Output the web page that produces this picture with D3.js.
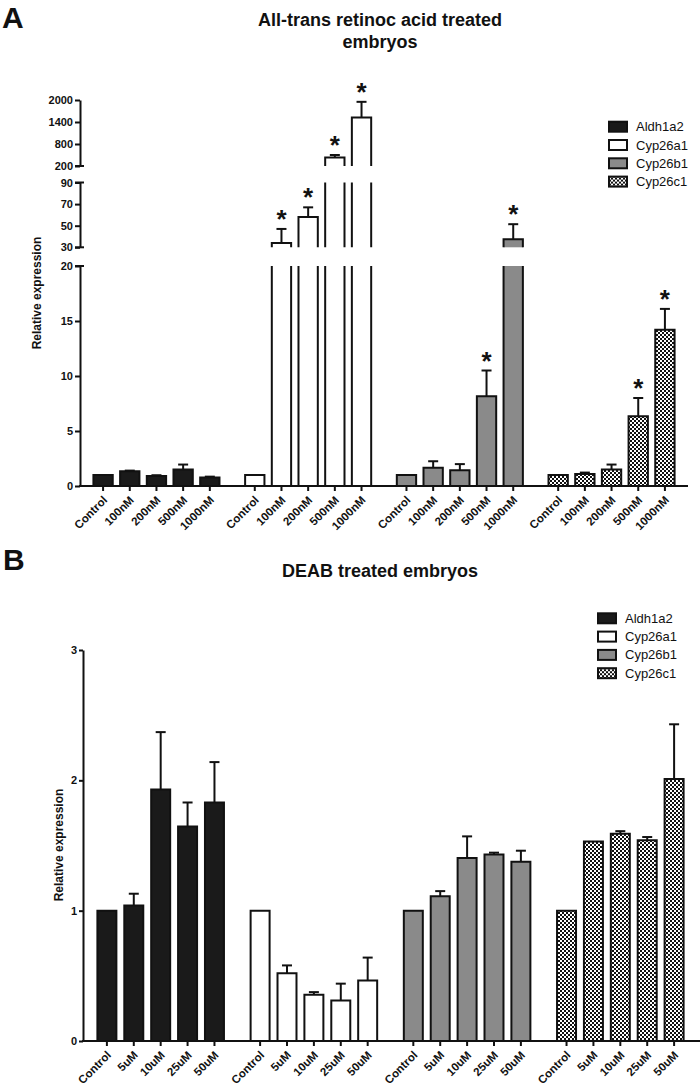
<!DOCTYPE html>
<html><head><meta charset="utf-8">
<script src="https://cdn.jsdelivr.net/npm/d3@7"></script>
<style>
body{margin:0;background:#fff}
svg{display:block}
text{font-family:"Liberation Sans",Arial,Helvetica,sans-serif;fill:#111}
</style>
</head><body>
<svg id="chart" width="700" height="1088"></svg>
<script>
// ---------- DATA ----------
const genes = ["Aldh1a2", "Cyp26a1", "Cyp26b1", "Cyp26c1"];
const concA = ["Control", "100nM", "200nM", "500nM", "1000nM"];
const concB = ["Control", "5uM", "10uM", "25uM", "50uM"];

// Panel A (all-trans retinoic acid) means and upper error (SEM)
const aldhA   = [1.0, 1.33, 0.92, 1.5, 0.77];
const aldhAErr= [0, 0.07, 0.06, 0.45, 0.08];
const a1A     = [1.0, 34, 58, 430, 1520];
const a1AErr  = [0, 13, 9, 70, 430];
const b1A     = [1.0, 1.65, 1.44, 8.15, 37.4];
const b1AErr  = [0, 0.6, 0.55, 2.35, 14];
const c1A     = [1.0, 1.1, 1.5, 6.35, 14.2];
const c1AErr  = [0, 0.12, 0.45, 1.65, 1.9];
// significance stars (1 = *)
const aldhASig = [0,0,0,0,0];
const a1ASig   = [0,1,1,1,1];
const b1ASig   = [0,0,0,1,1];
const c1ASig   = [0,0,0,1,1];

// Panel B (DEAB)
const aldhB   = [1.0, 1.04, 1.93, 1.645, 1.83];
const aldhBErr= [0, 0.09, 0.44, 0.185, 0.31];
const a1B     = [1.0, 0.52, 0.355, 0.31, 0.465];
const a1BErr  = [0, 0.06, 0.02, 0.13, 0.175];
const b1B     = [1.0, 1.11, 1.405, 1.43, 1.375];
const b1BErr  = [0, 0.04, 0.165, 0.015, 0.085];
const c1B     = [1.0, 1.53, 1.59, 1.54, 2.01];
const c1BErr  = [0, 0, 0.02, 0.025, 0.42];

// axis tick labels (panel A broken axis segments, panel B)
const ticksA0 = [0, 5, 10, 15, 20];
const ticksA1 = [30, 50, 70, 90];
const ticksA2 = [200, 800, 1400, 2000];
const ticksB  = [0, 1, 2, 3];

const meansA = [aldhA, a1A, b1A, c1A];
const errsA  = [aldhAErr, a1AErr, b1AErr, c1AErr];
const sigA   = [aldhASig, a1ASig, b1ASig, c1ASig];
const meansB = [aldhB, a1B, b1B, c1B];
const errsB  = [aldhBErr, a1BErr, b1BErr, c1BErr];

// ---------- DRAW ----------
const svg = d3.select("#chart");
const defs = svg.append("defs");
const pat = defs.append("pattern").attr("id","checker")
  .attr("patternUnits","userSpaceOnUse").attr("width",4).attr("height",4);
pat.append("rect").attr("width",4).attr("height",4).attr("fill","#111");
pat.append("rect").attr("width",2).attr("height",2).attr("fill","#fff");
pat.append("rect").attr("x",2).attr("y",2).attr("width",2).attr("height",2).attr("fill","#fff");

const fills = {Aldh1a2:"#1a1a1a", Cyp26a1:"#ffffff", Cyp26b1:"#8a8a8a", Cyp26c1:"url(#checker)"};
const INK = "#111";
const fmt = d3.format("d");

function styleAxis(g, fs){
  g.selectAll(".domain").attr("stroke",INK).attr("stroke-width",2);
  g.selectAll(".tick line").attr("stroke",INK).attr("stroke-width",2);
  g.selectAll(".tick text").attr("font-size",fs).attr("font-weight","bold")
    .attr("fill",INK).attr("font-family",'"Liberation Sans",Arial,sans-serif');
}

function drawPanel(opt){
  const g = svg.append("g");
  const x0 = d3.scaleBand().domain(genes).range(opt.xRange)
    .paddingInner(opt.outerPadIn).paddingOuter(opt.outerPadOut);
  const x1 = d3.scaleBand().domain(opt.conc).range([0, x0.bandwidth()])
    .paddingInner(opt.innerPad).paddingOuter(0);
  const segs = opt.segs;
  segs.forEach(s => s.y = d3.scaleLinear().domain(s.d).range(s.r));
  const base = segs[0].y(segs[0].d[0]);

  // bars
  genes.forEach((gene, gi) => {
    opt.conc.forEach((c, ci) => {
      const v = opt.means[gi][ci], e = opt.errs[gi][ci];
      const x = x0(gene) + x1(c), w = x1.bandwidth(), cx = x + w/2;
      segs.forEach(s => {
        if (v <= s.d[0]) return;
        const top = Math.min(v, s.d[1]);
        const y0 = s.y(s.d[0]), y1 = s.y(top);
        g.append("rect").attr("x",x).attr("y",y1).attr("width",w).attr("height",y0-y1)
          .attr("fill",fills[gene]);
        const closed = v <= s.d[1];
        const p = closed ? `M${x},${y0}V${y1}H${x+w}V${y0}`
                         : `M${x},${y0}V${y1}M${x+w},${y1}V${y0}`;
        g.append("path").attr("d",p).attr("fill","none").attr("stroke",INK).attr("stroke-width",2);
      });
      const seg = segs.find(s => v >= s.d[0] && v <= s.d[1]) || segs[segs.length-1];
      const yv = seg.y(v);
      let ytop = yv;
      if (e > 0){
        const ye = seg.y(v + e);
        ytop = ye;
        g.append("line").attr("x1",cx).attr("x2",cx).attr("y1",yv).attr("y2",ye)
          .attr("stroke",INK).attr("stroke-width",2);
        g.append("line").attr("x1",cx-5).attr("x2",cx+5).attr("y1",ye).attr("y2",ye)
          .attr("stroke",INK).attr("stroke-width",2);
      }
      if (opt.sig && opt.sig[gi][ci]){
        g.append("text").attr("x",cx).attr("y",ytop-1).attr("text-anchor","middle")
          .attr("font-size",26).attr("font-weight","bold").text("*");
      }
    });
  });

  // y axes
  segs.forEach((s, si) => {
    const ax = g.append("g").attr("transform",`translate(${opt.xRange[0]},0)`)
      .call(d3.axisLeft(s.y).tickValues(s.t).tickFormat(fmt).tickSize(opt.yTick).tickSizeOuter(0).tickPadding(2));
    styleAxis(ax, 11);
    if (segs.length > 1){
      const ends = [];
      if (si > 0) ends.push(s.y(s.d[0]));
      if (si < segs.length-1) ends.push(s.y(s.d[1]));
      ends.forEach(yy => g.append("line").attr("x1",opt.xRange[0]-5).attr("x2",opt.xRange[0]+4)
        .attr("y1",yy).attr("y2",yy).attr("stroke",INK).attr("stroke-width",2));
    }
  });

  // x axis
  g.append("line").attr("x1",opt.xRange[0]-1).attr("x2",opt.xAxisEnd).attr("y1",base).attr("y2",base)
    .attr("stroke",INK).attr("stroke-width",2);
  genes.forEach(gene => {
    const ax = g.append("g").attr("transform",`translate(${x0(gene)},${base})`)
      .call(d3.axisBottom(x1).tickSize(5).tickSizeOuter(0));
    ax.select(".domain").remove();
    styleAxis(ax, 11.5);
    ax.selectAll(".tick text").attr("x",0).attr("y",0).attr("dy","0.35em")
      .attr("text-anchor","end").attr("transform","translate(2,12) rotate(-45)");
  });

  // y label
  g.append("text").attr("transform",`translate(${opt.yLabelX},${opt.yLabelY}) rotate(-90)`)
    .attr("text-anchor","middle").attr("font-size",12).attr("font-weight","bold")
    .text("Relative expression");

  // legend
  const lg = g.append("g").attr("transform",`translate(${opt.legend[0]},${opt.legend[1]})`);
  genes.forEach((gene, i) => {
    const row = lg.append("g").attr("transform",`translate(0,${i*18.3})`);
    row.append("rect").attr("x",0).attr("y",-5).attr("width",18).attr("height",10)
      .attr("fill",fills[gene]).attr("stroke",INK).attr("stroke-width",2);
    row.append("text").attr("x",27).attr("y",0).attr("dy","0.35em")
      .attr("font-size",13).text(gene);
  });
}

// Panel A
drawPanel({
  conc: concA, means: meansA, errs: errsA, sig: sigA,
  xRange: [80, 688], xAxisEnd: 688, outerPadIn: 0.169, outerPadOut: 0.0885, innerPad: 0.276,
  segs: [{d:[0,20], r:[486,266], t:ticksA0},
         {d:[30,90], r:[247.3,182.5], t:ticksA1},
         {d:[200,2000], r:[166,100], t:ticksA2}],
  yTick: 5, yLabelX: 41, yLabelY: 293, legend: [609, 126.7]
});

// Panel B
drawPanel({
  conc: concB, means: meansB, errs: errsB, sig: null,
  xRange: [83, 698], xAxisEnd: 700, outerPadIn: 0.174, outerPadOut: 0.094, innerPad: 0.294,
  segs: [{d:[0,3], r:[1041,650], t:ticksB}],
  yTick: 4, yLabelX: 63, yLabelY: 845, legend: [598, 618.3]
});

// Titles and panel letters
svg.append("text").attr("x",2).attr("y",28).attr("font-size",30).attr("font-weight","bold").text("A");
svg.append("text").attr("x",3).attr("y",570).attr("font-size",30).attr("font-weight","bold").text("B");
const tA = svg.append("text").attr("x",380).attr("text-anchor","middle").attr("font-size",18).attr("font-weight","bold");
tA.append("tspan").attr("x",380).attr("y",26).text("All-trans retinoc acid treated");
tA.append("tspan").attr("x",380).attr("y",48).text("embryos");
svg.append("text").attr("x",380).attr("y",577).attr("text-anchor","middle")
  .attr("font-size",18).attr("font-weight","bold").text("DEAB treated embryos");
</script>
</body></html>
